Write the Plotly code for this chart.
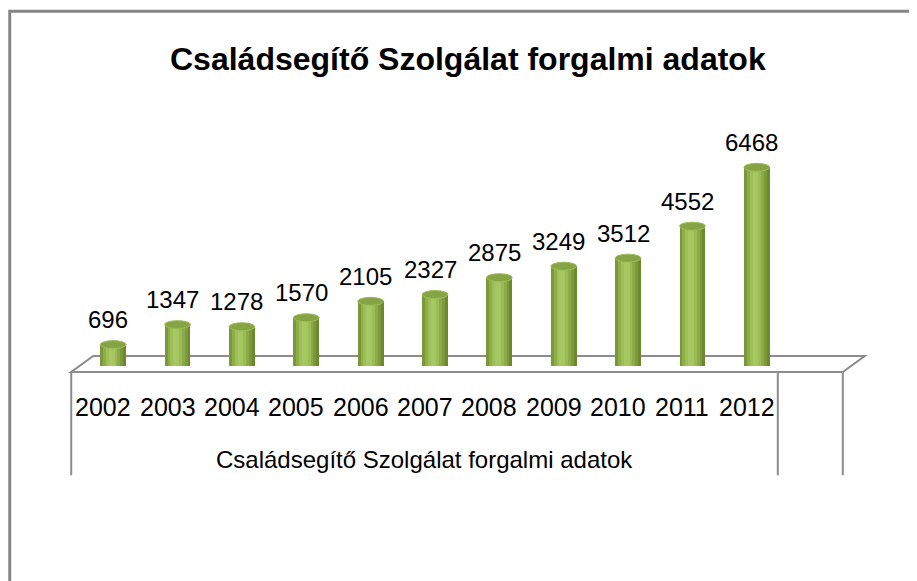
import plotly.graph_objects as go

years = ["2002", "2003", "2004", "2005", "2006", "2007", "2008", "2009", "2010", "2011", "2012"]
values = [696, 1347, 1278, 1570, 2105, 2327, 2875, 3249, 3512, 4552, 6468]
title_text = "Családsegítő Szolgálat forgalmi adatok"
group_label = "Családsegítő Szolgálat forgalmi adatok"

OFF = 8  # page body margin
W, H = 917 - OFF, 581 - OFF
L, R = 80.8 - OFF, 789.2 - OFF
T, B = 151.4 - OFF, 366.0 - OFF

def pxx(px):
    return (px - OFF - L) / (R - L)

def pxy(py):
    return (B - (py - OFF)) / (B - T)

idx = list(range(len(years)))
stripe_colors = ["#7a9838", "#8eae4a", "#9ebf58", "#a7c862", "#a6c661",
                 "#9bbb56", "#8cab48", "#7c9a3a", "#6c8a2c"]
n = len(stripe_colors)
bw = 0.40
sw = bw / n

fig = go.Figure()
for k, c in enumerate(stripe_colors):
    fig.add_trace(go.Bar(
        x=idx, y=values, width=sw * 1.02, offset=-bw / 2 + k * sw,
        marker=dict(color=c, line=dict(width=0)),
        showlegend=False, hoverinfo="skip"))

shapes = []
shapes.append(dict(type="rect", xref="paper", yref="paper",
                   x0=pxx(9.5), x1=pxx(940), y0=pxy(12), y1=pxy(620),
                   line=dict(color="#868686", width=3), fillcolor="rgba(0,0,0,0)", layer="below"))
floor = [(71, 372), (843, 372), (865, 356), (93, 356)]
path = "M " + " L ".join(f"{pxx(a):.5f},{pxy(b):.5f}" for a, b in floor) + " Z"
shapes.append(dict(type="path", xref="paper", yref="paper", path=path,
                   fillcolor="#ffffff", line=dict(color="#8c8c8c", width=2), layer="below"))
for xv in (71, 778, 843):
    shapes.append(dict(type="line", xref="paper", yref="paper",
                       x0=pxx(xv), x1=pxx(xv), y0=pxy(372), y1=pxy(475),
                       line=dict(color="#8c8c8c", width=2), layer="below"))
for i, v in zip(idx, values):
    shapes.append(dict(type="circle", xref="x", yref="y", ysizemode="pixel", yanchor=0,
                       x0=i - bw / 2, x1=i + bw / 2, y0=-1, y1=7,
                       fillcolor="#96b651", line=dict(width=0), layer="below"))
    shapes.append(dict(type="circle", xref="x", yref="y", ysizemode="pixel", yanchor=v,
                       x0=i - bw / 2, x1=i + bw / 2, y0=-4, y1=4,
                       fillcolor="#86a444", line=dict(color="#9dbd58", width=1), layer="above"))

annotations = []
for i, v in zip(idx, values):
    annotations.append(dict(x=i, y=v, xref="x", yref="y", text=str(v), showarrow=False,
                            yanchor="middle", yshift=25, xshift=-5,
                            font=dict(family="Liberation Sans", size=24, color="#000000")))
for i, yr in zip(idx, years):
    annotations.append(dict(x=i, y=pxy(407), xref="x", yref="paper", text=yr, showarrow=False,
                            yanchor="middle", xshift=-10,
                            font=dict(family="Liberation Sans", size=25, color="#000000")))
annotations.append(dict(x=pxx(424.5), y=pxy(459), xref="paper", yref="paper", text=group_label,
                        showarrow=False, yanchor="middle",
                        font=dict(family="Liberation Sans", size=24, color="#000000")))
annotations.append(dict(x=pxx(468), y=pxy(60), xref="paper", yref="paper",
                        text="<b>" + title_text + "</b>", showarrow=False, yanchor="middle",
                        font=dict(family="Liberation Sans", size=32, color="#000000")))

fig.update_layout(
    width=W, height=H,
    margin=dict(l=L, r=W - R, t=T, b=H - B, pad=0),
    paper_bgcolor="#ffffff", plot_bgcolor="rgba(0,0,0,0)",
    barmode="overlay", bargap=0,
    xaxis=dict(range=[-0.5, 10.5], visible=False, fixedrange=True),
    yaxis=dict(range=[0, 7000], visible=False, fixedrange=True),
    shapes=shapes, annotations=annotations, showlegend=False,
)
fig.write_html("out.html")
